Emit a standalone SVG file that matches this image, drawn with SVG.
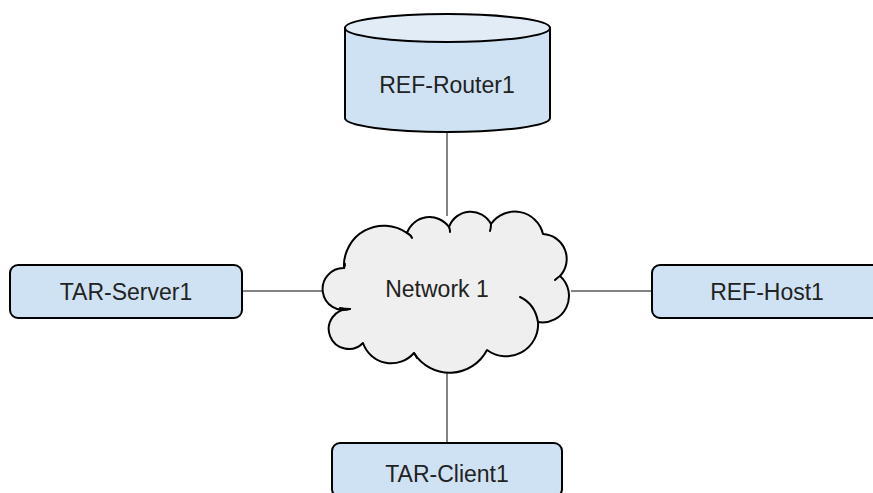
<svg xmlns="http://www.w3.org/2000/svg" width="873" height="493" viewBox="0 0 873 493">
  <style>
    .node { fill: #cfe2f3; stroke: #000; stroke-width: 2; }
    .cyl-top { fill: #e2ecf7; stroke: #000; stroke-width: 2; }
    .cloud { fill: #efefef; stroke: #000; stroke-width: 2; stroke-linejoin: round; }
    .tick { fill: none; stroke: #000; stroke-width: 2; stroke-linecap: round; }
    .link { stroke: #595959; stroke-width: 1.5; fill: none; }
    .label { font-family: "Liberation Sans", Arial, sans-serif; font-size: 23px; fill: #222; text-anchor: middle; }
  </style>
  <rect width="873" height="493" fill="#fff"/>

  <!-- connectors -->
  <g id="connectors">
    <line class="link" x1="447" y1="132" x2="447" y2="216"/>
    <line class="link" x1="242" y1="291" x2="323" y2="291"/>
    <line class="link" x1="571" y1="291" x2="652" y2="291"/>
    <line class="link" x1="447" y1="370" x2="447" y2="443"/>
  </g>

  <!-- router: cylinder -->
  <g id="ref-router1">
    <path class="node" d="M345,28 V118 A102.5,14 0 0 0 550,118 V28 Z"/>
    <ellipse class="cyl-top" cx="447.5" cy="28" rx="102.5" ry="14"/>
    <text class="label" x="447" y="93">REF-Router1</text>
  </g>

  <!-- network cloud -->
  <g id="network1">
    <path class="cloud" d="M344,268
      A40,40 0 0 1 407,233
      A24,24 0 0 1 449,227
      A23,23 0 0 1 491,224
      A29,29 0 0 1 543,234
      A25,25 0 0 1 560,276
      A26.5,26.5 0 0 1 538,322
      A32,32 0 0 1 487,350
      A42,42 0 0 1 414,353
      A30,30 0 0 1 363,343
      A20,20 0 1 1 350,309
      A21,21 0 1 1 344,268 Z"/>
    <path class="tick" d="M407,233 Q411,235 412,238"/>
    <path class="tick" d="M449,227 Q450,229 450,232"/>
    <path class="tick" d="M491,224 Q491,228 490,231"/>
    <path class="tick" d="M560,276 Q557,278 555,280"/>
    <path class="tick" d="M538,322 Q535,304 520,297"/>
    <path class="tick" d="M414,353 Q416,356 417,358"/>
    <path class="tick" d="M350,309 Q345,309 340,308"/>
    <path class="tick" d="M344,268 Q345,266 345,264"/>
    <text class="label" x="437" y="297">Network 1</text>
  </g>

  <g id="tar-server1">
    <rect class="node" x="10" y="265" width="232" height="53" rx="8"/>
    <text class="label" x="126" y="300">TAR-Server1</text>
  </g>

  <g id="ref-host1">
    <rect class="node" x="652" y="265" width="232" height="53" rx="8"/>
    <text class="label" x="767" y="300">REF-Host1</text>
  </g>

  <g id="tar-client1">
    <rect class="node" x="332" y="443" width="230" height="54" rx="8"/>
    <text class="label" x="447" y="482">TAR-Client1</text>
  </g>
</svg>
